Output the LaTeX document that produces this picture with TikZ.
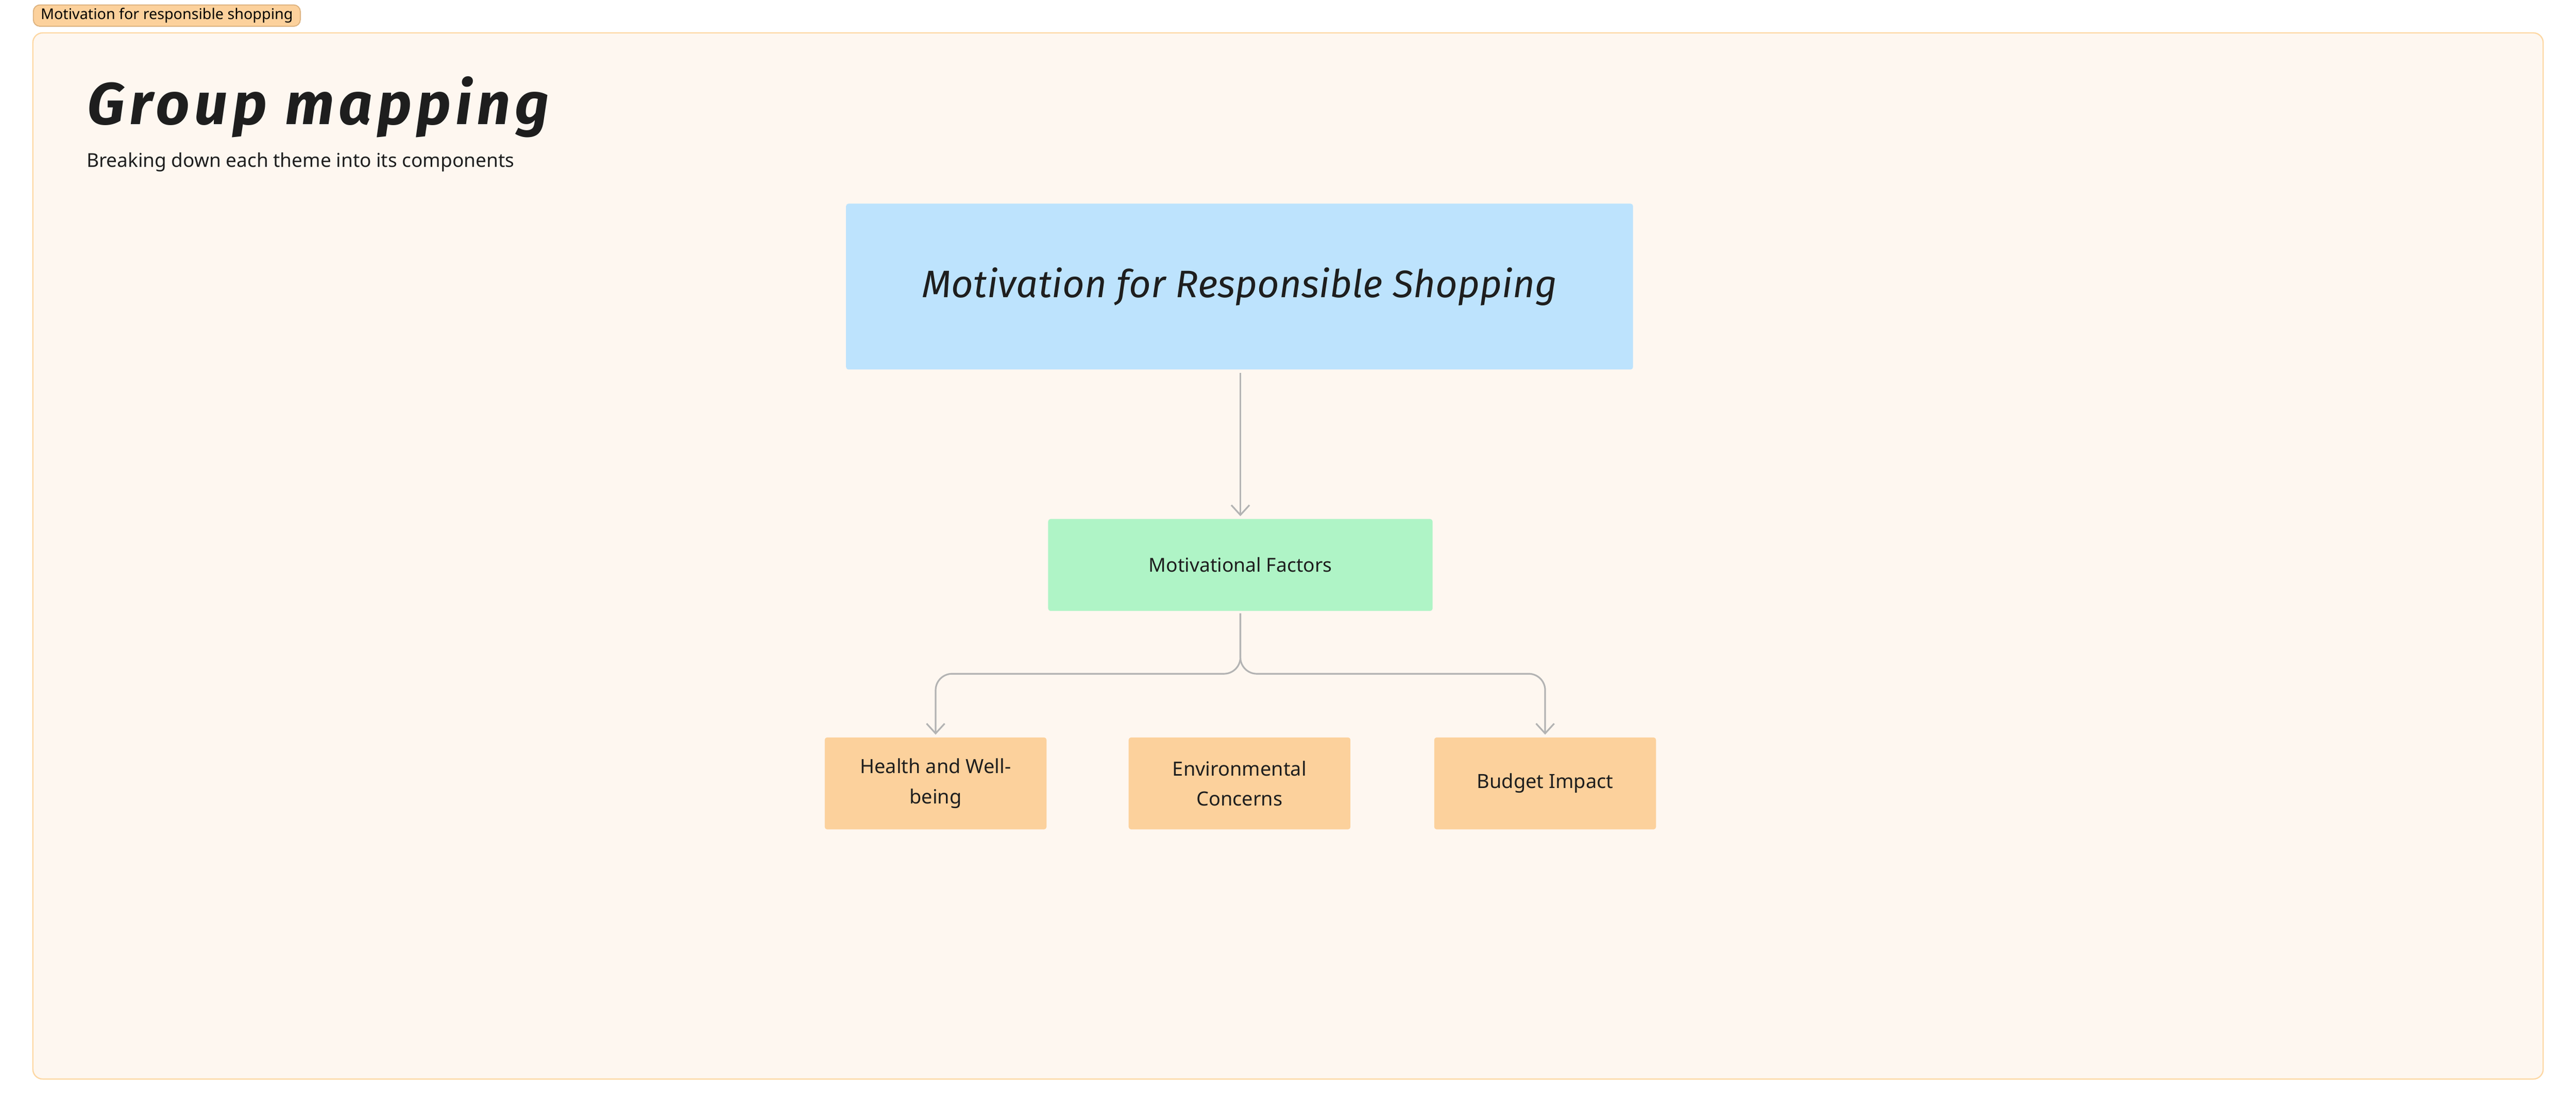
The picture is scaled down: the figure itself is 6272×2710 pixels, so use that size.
\documentclass[tikz,border=0pt]{standalone}
\usepackage{fontspec}
\setmainfont{Noto Sans}
\newfontfamily\handfont{Fira Sans}
\usetikzlibrary{arrows.meta}
\definecolor{bgcream}{HTML}{FEF7F0}
\definecolor{frameline}{HTML}{FDD8A4}
\definecolor{tagline}{HTML}{DDB27E}
\definecolor{bluefill}{HTML}{BDE3FD}
\definecolor{greenfill}{HTML}{AFF4C6}
\definecolor{orangefill}{HTML}{FCD19C}
\definecolor{connline}{HTML}{B3B3B3}
\definecolor{inktext}{HTML}{1E1E1E}
\tikzset{
  tagbox/.style={draw=tagline, fill=orangefill, line width=0.6pt, rounded corners=4pt,
    minimum height=13pt, inner xsep=4.5pt, inner ysep=0pt, text=black,
    font=\fontsize{9pt}{10pt}\selectfont},
  framebox/.style={draw=frameline, fill=bgcream, line width=0.75pt, rounded corners=6pt},
  themebox/.style={fill=bluefill, rounded corners=1.5pt, minimum width=479pt, minimum height=101pt,
    text=inktext, font=\handfont\itshape\fontsize{23.3pt}{28pt}\selectfont},
  factorbox/.style={fill=greenfill, rounded corners=1.5pt, minimum width=234pt, minimum height=56pt,
    text=inktext, font=\fontsize{11.7pt}{14pt}\selectfont},
  leafbox/.style={fill=orangefill, rounded corners=1.5pt, minimum width=135pt, minimum height=56pt,
    text=inktext, align=center, font=\fontsize{11.9pt}{18.25pt}\selectfont},
  conn/.style={draw=connline, line width=1pt,
    -{Straight Barb[length=6pt, width=11pt, line width=1pt]}},
}
\begin{document}
\begin{tikzpicture}[x=0.25pt, y=-0.25pt]
\useasboundingbox (0,0) rectangle (6272,2710);
\fill[white] (0,0) rectangle (6272,2710);
% frame
\path[framebox] (80,80) rectangle (6192,2628);
% tag
\node[tagbox, anchor=west] (tag) at (80,38) {Motivation for responsible shopping};
% headings
\node[anchor=base west, inner sep=0pt, text=inktext,
  font=\handfont\bfseries\itshape\fontsize{36pt}{40pt}\selectfont\addfontfeature{LetterSpace=8}] (title) at (212,303) {Group mapping};
\node[anchor=base west, inner sep=0pt, text=inktext,
  font=\fontsize{11.6pt}{14pt}\selectfont] (subtitle) at (210,407) {Breaking down each theme into its components};
% nodes
\node[themebox] (theme) at (3018,698) {\raisebox{-4pt}{Motivation for Responsible Shopping}};
\node[factorbox] (factors) at (3020,1376) {Motivational Factors};
\node[leafbox] (health) at (2278,1908) {Health and Well-\\being};
\node[leafbox] (env) at (3018,1908) {Environmental\\Concerns};
\node[leafbox] (budget) at (3762,1908) {Budget Impact};
\coordinate (split) at (3020,1641);
% connectors
\draw[conn, shorten <=1.75pt, shorten >=1.5pt] (theme.south -| factors.north) -- (factors.north);
\draw[conn, rounded corners=10pt, shorten <=1.25pt, shorten >=1.5pt] (factors.south) -- (split) -| (health.north);
\draw[conn, rounded corners=10pt, shorten <=1.25pt, shorten >=1.5pt] (factors.south) -- (split) -| (budget.north);
\end{tikzpicture}
\end{document}
